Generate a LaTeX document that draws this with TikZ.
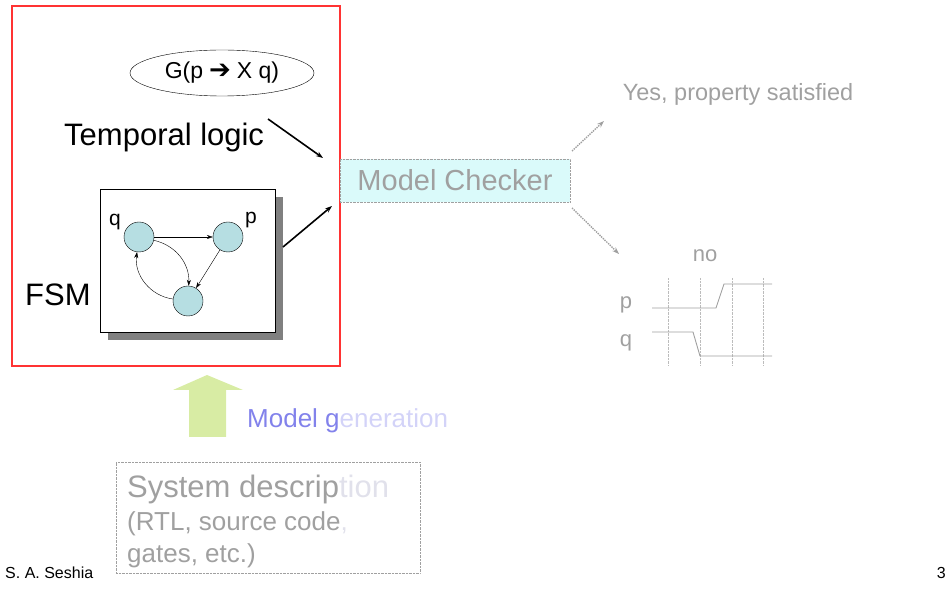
\documentclass[tikz,border=0pt]{standalone}
\usepackage{fontspec}
\setmainfont{Liberation Sans}
\newfontfamily\symfont{DejaVu Sans}
\usetikzlibrary{shapes.geometric,arrows.meta}

\definecolor{faded}{RGB}{160,160,160}
\definecolor{fainter}{RGB}{225,225,235}
\definecolor{checkfill}{RGB}{218,250,250}
\definecolor{genarrow}{RGB}{216,236,164}
\definecolor{genblue}{RGB}{130,130,235}
\definecolor{statefill}{RGB}{182,222,226}

\begin{document}
\begin{tikzpicture}[x=1pt,y=-1pt,>={Stealth[length=7pt,width=5pt]},
    state/.style={circle,draw,fill=statefill,minimum size=30pt,inner sep=0pt},
    fadedarrow/.style={->,faded,densely dotted,line width=1.4pt},
    bigtext/.style={font=\fontsize{31}{36}\selectfont}]
    \useasboundingbox (0,0) rectangle (948,601);

    % left frame
    \draw[red!80,line width=1.2pt] (12,6) rectangle (340,366);
    \node[ellipse,draw,minimum width=184pt,minimum height=46pt] (formula) at (222,73)
        {\fontsize{23}{26}\selectfont G(p\hspace{6pt}{\symfont\bfseries\fontsize{26}{26}\selectfont ➔}\hspace{6pt}X q)};
    \node[bigtext,anchor=base west,inner sep=0pt] (tl) at (64,146) {Temporal logic};

    % FSM box with shadow
    \fill[gray] (108,197) rectangle (283,340);
    \node[draw,fill=white,minimum width=175pt,minimum height=143pt] (fsmbox) at (187.5,260.5) {};
    \node[state] (q) at (139,237) {};
    \node[state] (p) at (228,237) {};
    \node[state] (r) at (188,301) {};
    \node[font=\fontsize{21}{24}\selectfont] (qlbl) at (115,222) {q};
    \node[font=\fontsize{21}{24}\selectfont] (plbl) at (251,220) {p};
    \draw[->,>={Stealth[length=6pt,width=4pt]}] (q) -- (p);
    \draw[->,>={Stealth[length=6pt,width=4pt]}] (p) -- (r);
    \draw[->,>={Stealth[length=6pt,width=4pt]}] (q) to[bend left=40] (r);
    \draw[->,>={Stealth[length=6pt,width=4pt]}] (r) to[bend left=45] (q);
    \node[bigtext,anchor=base west,inner sep=0pt] (fsm) at (25,306) {FSM};

    % model checker
    \node[draw=faded,densely dotted,fill=checkfill,minimum width=230pt,minimum height=43pt,
        text=faded,font=\fontsize{29}{34}\selectfont] (mc) at (455,180.5) {Model Checker};
    \coordinate (tlend) at (268,119);
    \coordinate (fsmend) at (283,247);
    \coordinate (yesend) at (604,121);
    \coordinate (noend) at (619,254);
    \draw[->,line width=1.6pt] (tlend) -- (323,158);
    \draw[->,line width=1.6pt] (fsmend) -- (332,206);

    \node[text=faded,font=\fontsize{23.5}{28}\selectfont,anchor=base] (yes) at (738,101)
        {Yes, property satisfied};
    \node[text=faded,font=\fontsize{22}{26}\selectfont,anchor=base] (no) at (705,262) {no};
    \draw[fadedarrow] (572,151) -- (yesend);
    \draw[fadedarrow] (572,208) -- (noend);

    % counterexample trace
    \node[text=faded,font=\fontsize{22}{26}\selectfont,anchor=base] (ptr) at (626,309) {p};
    \node[text=faded,font=\fontsize{22}{26}\selectfont,anchor=base] (qtr) at (626,347) {q};
    \foreach \x in {668,700,732,763}
        \draw[faded!70,densely dotted] (\x,278) -- (\x,365);
    \draw[faded,line width=0.9pt] (652,308) -- (716,308) -- (724,284) -- (772,284);
    \draw[faded,line width=0.9pt] (652,332) -- (693,332) -- (700,356) -- (772,356);

    % model generation
    \fill[genarrow] (189,437) -- (189,390) -- (173,390) -- (207,375) -- (243,390)
        -- (226,390) -- (226,437) -- cycle;
    \node[anchor=base west,inner sep=0pt,font=\fontsize{26}{30}\selectfont] (gen) at (247,428)
        {\textcolor{genblue}{Model g}\textcolor{genblue!35}{eneration}};

    % system description
    \node[draw=faded,densely dotted,minimum width=304pt,minimum height=111pt] (sys) at (268,517.5) {};
    \node[anchor=base west,inner sep=0pt,text=faded,font=\fontsize{31}{36}\selectfont] (sys1) at (127,497)
        {System descrip\textcolor{fainter}{tion}};
    \node[anchor=base west,inner sep=0pt,text=faded,font=\fontsize{26}{30}\selectfont] (sys2) at (127,530)
        {(RTL, source code\textcolor{fainter}{,}};
    \node[anchor=base west,inner sep=0pt,text=faded,font=\fontsize{26}{30}\selectfont] (sys3) at (127,562)
        {gates, etc.)};

    % footer
    \node[anchor=base west,inner sep=0pt,font=\fontsize{16}{19}\selectfont] (author) at (5,578) {S. A. Seshia};
    \node[anchor=base east,inner sep=0pt,font=\fontsize{16}{19}\selectfont] (page) at (946,578) {3};
\end{tikzpicture}
\end{document}
